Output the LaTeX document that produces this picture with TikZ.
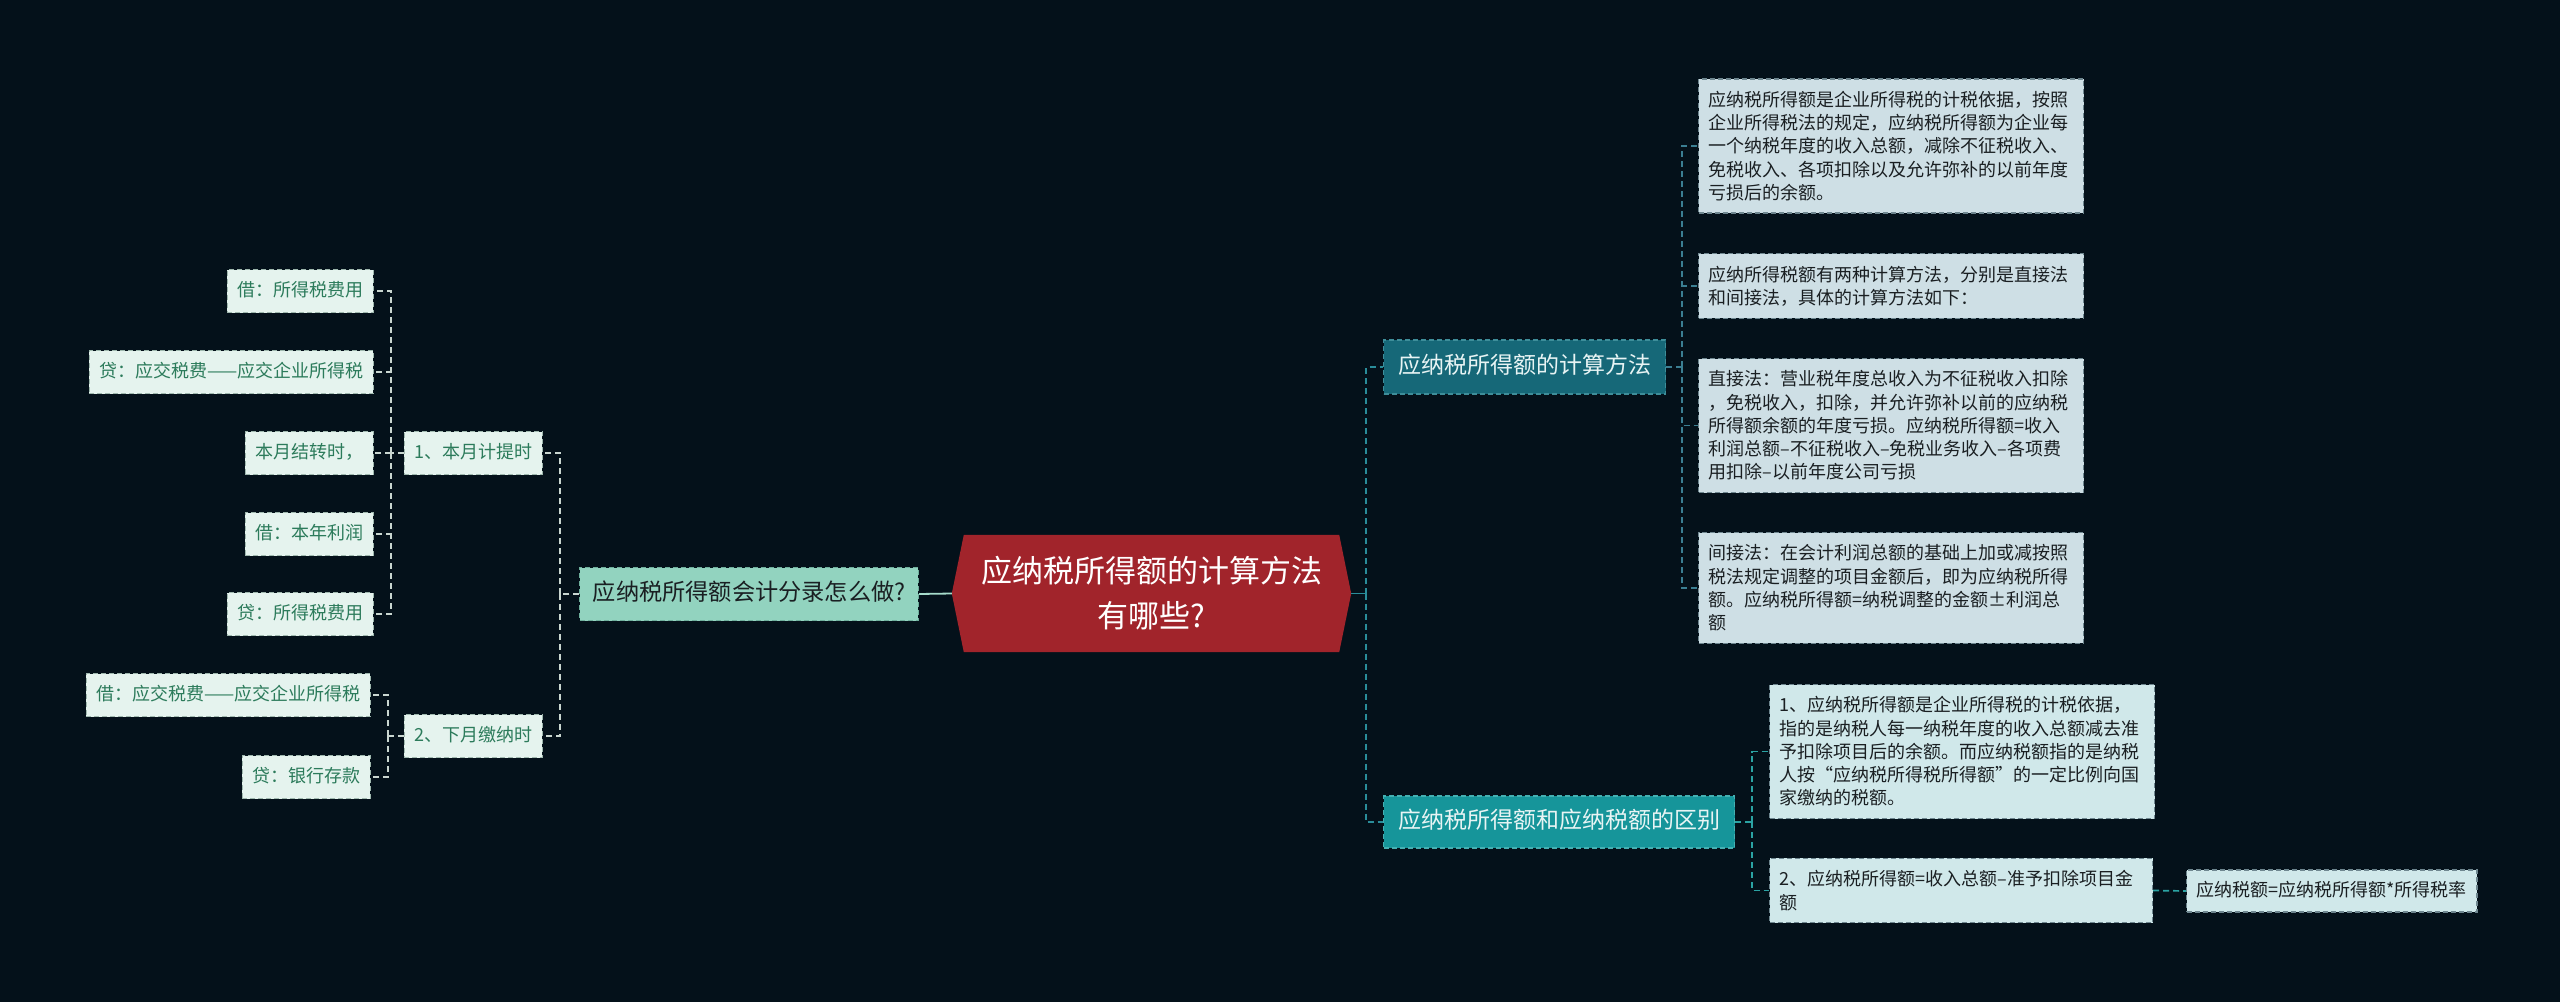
\documentclass[tikz,border=0pt]{standalone}
\usepackage{fontspec}
\setmainfont{Noto Sans CJK SC}
\usetikzlibrary{backgrounds}
\definecolor{bg}{HTML}{04111A}
\definecolor{rootred}{HTML}{A1242B}
\definecolor{tealA}{HTML}{166878}
\definecolor{tealAb}{HTML}{3E8E9A}
\definecolor{tealB}{HTML}{16959A}
\definecolor{tealBb}{HTML}{45B0B2}
\definecolor{mint}{HTML}{92D3BF}
\definecolor{mintb}{HTML}{6FAF9C}
\definecolor{leafR}{HTML}{CEDFE5}
\definecolor{leafRb}{HTML}{D0E8EA}
\definecolor{leafRborder}{HTML}{6F8790}
\definecolor{leafL}{HTML}{E5F3EE}
\definecolor{leafLtext}{HTML}{2C7B5B}
\definecolor{leafLborder}{HTML}{9FB8AE}
\definecolor{lineR}{HTML}{2A8D9A}
\definecolor{lineA}{HTML}{3B7F93}
\definecolor{lineB}{HTML}{2BA3A3}
\definecolor{lineL}{HTML}{C9D6D0}
\definecolor{lineM}{HTML}{A6DCCB}
\definecolor{darktext}{HTML}{1A1F22}
\definecolor{lighttext}{HTML}{E8F4F4}
\newcommand\fsleaf{\fontsize{18}{23.3}\selectfont}
\newcommand\fsmid{\fontsize{23}{28}\selectfont}
\newcommand\fsmidc{\fontsize{23.2}{28}\selectfont}
\newcommand\fsroot{\fontsize{31}{45}\selectfont}
\begin{document}
\begin{tikzpicture}[x=1pt,y=-1pt,
  conn/.style={line width=1.7pt, dash pattern=on 6pt off 4pt},
  solidconn/.style={line width=1.8pt},
  boxdash/.style={line width=1.1pt, dash pattern=on 5pt off 3pt},
  rleaf/.style={boxdash, draw=leafRborder, fill=leafR, text=darktext, font=\fsleaf,
    align=left, text width=365pt, inner xsep=10pt, inner ysep=12pt, anchor=west},
  rleafone/.style={boxdash, draw=leafRborder, fill=leafRb, text=darktext, font=\fsleaf,
    text height=14pt, text depth=4pt, inner xsep=10pt, inner ysep=12pt, anchor=west},
  lleaf/.style={boxdash, draw=leafLborder, fill=leafL, text=leafLtext, font=\fsleaf,
    text height=14pt, text depth=4pt, inner xsep=10pt, inner ysep=12.5pt, anchor=east},
  lone/.style={boxdash, font=\fsmid, text height=17pt, text depth=5pt,
    inner xsep=14.5pt, inner ysep=16pt},
  rootnode/.style={inner sep=0pt, minimum width=399pt, minimum height=117pt,
    align=center, font=\fsroot, text=white}
]
\begin{scope}[on background layer]
\fill[bg] (0,0) rectangle (2560,1002);
\end{scope}
\useasboundingbox (0,0) rectangle (2560,1002);

% root
\node[rootnode] (root) at (1151.5,593.5) {应纳税所得额的计算方法\\有哪些?};
\begin{scope}[on background layer]
\fill[rootred] (root.west) -- ([xshift=12pt]root.north west) -- ([xshift=-12pt]root.north east)
  -- (root.east) -- ([xshift=-12pt]root.south east) -- ([xshift=12pt]root.south west) -- cycle;
\end{scope}

% level 1
\node[lone, fill=tealA, draw=tealAb, text=lighttext, anchor=west] (l1a) at (1383,367) {应纳税所得额的计算方法};
\node[lone, fill=tealB, draw=tealBb, text=lighttext, anchor=west, inner ysep=15pt] (l1b) at (1383,822) {应纳税所得额和应纳税额的区别};
\node[lone, fill=mint, draw=mintb, text=darktext, anchor=east, font=\fsmidc, inner xsep=13pt, inner ysep=15.5pt] (l1c) at (919,594) {应纳税所得额会计分录怎么做?};

% right leaves
\node[rleaf] (a1) at (1698,146) {应纳税所得额是企业所得税的计税依据，按照\\企业所得税法的规定，应纳税所得额为企业每\\一个纳税年度的收入总额，减除不征税收入、\\免税收入、各项扣除以及允许弥补的以前年度\\亏损后的余额。};
\node[rleaf] (a2) at (1698,286) {应纳所得税额有两种计算方法，分别是直接法\\和间接法，具体的计算方法如下：};
\node[rleaf] (a3) at (1698,425.5) {直接法：营业税年度总收入为不征税收入扣除\\，免税收入，扣除，并允许弥补以前的应纳税\\所得额余额的年度亏损。应纳税所得额=收入\\利润总额–不征税收入–免税业务收入–各项费\\用扣除–以前年度公司亏损};
\node[rleaf] (a4) at (1698,588) {间接法：在会计利润总额的基础上加或减按照\\税法规定调整的项目金额后，即为应纳税所得\\额。应纳税所得额=纳税调整的金额±利润总\\额};
\node[rleaf, fill=leafRb] (b1) at (1769,751.5) {1、应纳税所得额是企业所得税的计税依据，\\指的是纳税人每一纳税年度的收入总额减去准\\予扣除项目后的余额。而应纳税额指的是纳税\\人按“应纳税所得税所得额”的一定比例向国\\家缴纳的税额。};
\node[rleaf, fill=leafRb, text width=363pt] (b2) at (1769,890.5) {2、应纳税所得额=收入总额–准予扣除项目金\\额};
\node[rleafone] (c) at (2186,891) {应纳税额=应纳税所得额*所得税率};

% left groups
\node[lleaf] (g1) at (543,453) {1、本月计提时};
\node[lleaf] (g2) at (543,736) {2、下月缴纳时};

\node[lleaf] (p1) at (374,291) {借：所得税费用};
\node[lleaf] (p2) at (374,372) {贷：应交税费——应交企业所得税};
\node[lleaf] (p3) at (374,453) {本月结转时，};
\node[lleaf] (p4) at (374,534) {借：本年利润};
\node[lleaf] (p5) at (374,614) {贷：所得税费用};
\node[lleaf] (q1) at (371,695) {借：应交税费——应交企业所得税};
\node[lleaf] (q2) at (371,777) {贷：银行存款};

% junction coordinates
\coordinate (tr) at (1366,593.5);
\coordinate (ta) at (1682,367);
\coordinate (tb) at (1752,822);
\coordinate (tc) at (560,594);
\coordinate (t1) at (391,453);
\coordinate (t2) at (388,736);

% right connectors
\draw[solidconn, lineR] (root.east) -- (tr);
\draw[conn, lineR] (tr) |- (l1a.west);
\draw[conn, lineR] (tr) |- (l1b.west);
\draw[conn, lineA] (l1a.east) -- (ta);
\draw[conn, lineA] (ta) |- (a1.west);
\draw[conn, lineA] (ta) |- (a2.west);
\draw[conn, lineA] (ta) |- (a3.west);
\draw[conn, lineA] (ta) |- (a4.west);
\draw[conn, lineB] (l1b.east) -- (tb);
\draw[conn, lineB] (tb) |- (b1.west);
\draw[conn, lineB] (tb) |- (b2.west);
\draw[conn, lineB] (b2.east) -- (c.west);

% left connectors
\draw[solidconn, lineM] (root.west) -- (l1c.east);
\draw[conn, lineL] (l1c.west) -- (tc);
\draw[conn, lineL] (tc) |- (g1.east);
\draw[conn, lineL] (tc) |- (g2.east);
\draw[conn, lineL] (g1.west) -- (t1);
\draw[conn, lineL] (t1) |- (p1.east);
\draw[conn, lineL] (t1) |- (p2.east);
\draw[conn, lineL] (t1) |- (p3.east);
\draw[conn, lineL] (t1) |- (p4.east);
\draw[conn, lineL] (t1) |- (p5.east);
\draw[conn, lineL] (g2.west) -- (t2);
\draw[conn, lineL] (t2) |- (q1.east);
\draw[conn, lineL] (t2) |- (q2.east);
\end{tikzpicture}
\end{document}
